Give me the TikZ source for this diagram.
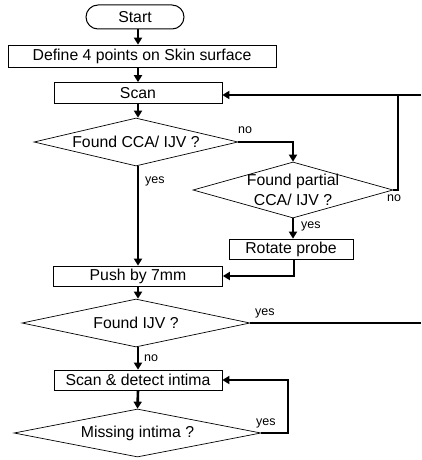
\documentclass[tikz,border=0pt]{standalone}
\usepackage{fontspec}
\setmainfont{Liberation Sans}
\usetikzlibrary{shapes.geometric,shapes.misc,arrows.meta}
\begin{document}
\begin{tikzpicture}[x=1pt,y=-1pt,
  txt/.style={font=\fontsize{15.8}{19.5}\selectfont},
  box/.style={draw,rectangle,line width=0.7pt,inner sep=0pt,txt},
  term/.style={draw,rounded rectangle,line width=1pt,inner sep=0pt,txt},
  dec/.style={draw,diamond,line width=0.7pt,inner sep=0pt},
  dtext/.style={txt,align=center,inner sep=0pt},
  conn/.style={line width=2.6pt},
  arr/.style={conn,-{Triangle[length=7pt,width=8pt]}},
  lbl/.style={font=\fontsize{12.5}{14}\selectfont,inner sep=1pt}]
\useasboundingbox (0,0) rectangle (421,460);
\node[term,minimum width=98pt,minimum height=24pt] (start) at (135,17) {Start};
\node[box,minimum width=268pt,minimum height=22pt] (define) at (142,56) {Define 4 points on Skin surface};
\node[box,minimum width=168pt,minimum height=21pt] (scan) at (138,93) {Scan};
\node[dec,minimum width=204pt,minimum height=48pt,label={[dtext]center:Found CCA/ IJV ?}] (d1) at (136,142) {};
\node[dec,minimum width=200pt,minimum height=56pt,label={[dtext]center:Found partial\\CCA/ IJV ?}] (d2) at (293,190) {};
\node[box,minimum width=124pt,minimum height=20pt] (rot) at (291,249) {Rotate probe};
\node[box,minimum width=169pt,minimum height=20pt] (push) at (138,276) {Push by 7mm};
\node[dec,minimum width=228pt,minimum height=48pt,label={[dtext]center:Found IJV ?}] (d3) at (136,323) {};
\node[box,minimum width=168pt,minimum height=20pt] (sd) at (138,380) {Scan \& detect intima};
\node[dec,minimum width=247pt,minimum height=48pt,label={[dtext]center:Missing intima ?}] (d4) at (137.5,433) {};
\coordinate (fbR) at (421,95);
\coordinate (fbX) at (398,95);
\coordinate (ijvR) at (421,323);
\coordinate (miX) at (288,433);
\draw[arr] (138,0 |- start.south) -- (138,0 |- define.north);
\draw[arr] (138,0 |- define.south) -- (scan.north);
\draw[arr] (scan.south) -- (d1.north -| scan.south);
\draw[arr] (d1.east) -| (d2.north);
\draw[conn] (d2.east) -| (fbX);
\draw[arr] (fbR) -- (scan.east |- fbR);
\draw[arr] (d2.south) -- (d2.south |- rot.north);
\draw[arr] (138,0 |- d1.south) -- (138,0 |- push.north);
\draw[arr] (294,0 |- rot.south) |- (push.east);
\draw[arr] (push.south) -- (push.south |- d3.north);
\draw[conn] (d3.east) -- (ijvR);
\draw[arr] (138,0 |- d3.south) -- (sd.north);
\draw[arr] (sd.south) -- (d4.north);
\draw[arr] (d4.east) -| (miX) |- (sd.east);
\node[lbl,anchor=south west] (lno1) at (237,135) {no};
\node[lbl,anchor=west] (lyes1) at (144,181) {yes};
\node[lbl,anchor=north west] (lno2) at (386,194) {no};
\node[lbl,anchor=west] (lyes2) at (300,226) {yes};
\node[lbl,anchor=south west] (lyes3) at (254,319) {yes};
\node[lbl,anchor=west] (lno3) at (143,358) {no};
\node[lbl,anchor=south west] (lyes4) at (255,429) {yes};
\end{tikzpicture}
\end{document}
